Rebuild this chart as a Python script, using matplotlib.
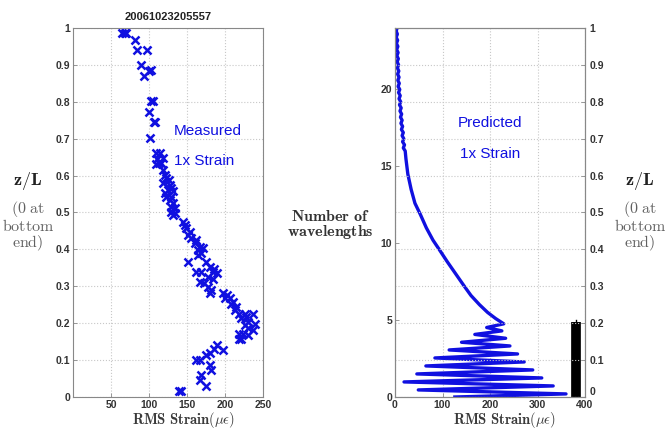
import matplotlib
matplotlib.use("Agg")
import matplotlib.pyplot as plt

plt.rcParams["mathtext.fontset"] = "cm"
plt.rcParams["font.family"] = ["Liberation Sans", "DejaVu Sans"]

BLUE = "#1010e0"
TICK_COLOR = "#333333"
GRID = dict(color="#c8c8c8", linestyle=":", linewidth=0.8)

# measured RMS strain (micro-strain) vs z/L
meas_strain = [64, 68, 70, 82, 84.6, 97.8, 89.9, 103, 100, 93.4, 103, 105.3, 100.4, 106.6,
               108.3, 100.9, 108.8, 114, 118.4, 110.5, 113, 109.6, 116, 118.4, 120.6, 122.8,
               126, 118.4, 127, 129, 125, 131.6, 120.6, 122.8, 129, 127, 131.6, 129, 133.8,
               129, 133.8, 131.6, 144.7, 147, 149, 153.5, 151, 155.7, 162, 160, 166.7, 164.5,
               171, 169, 164.5, 151, 175.4, 180, 186, 184, 162, 169, 190, 178, 184, 166.7,
               173, 178, 182, 180, 197, 202, 200, 206, 210.5, 208, 215, 213, 219, 226, 237,
               228, 221, 230, 239, 226, 230, 237, 219, 224, 230, 221, 219, 190, 186, 197,
               180, 175, 167, 162, 180, 182, 169, 167, 175, 139.5, 141.7]
meas_z = [0.986, 0.986, 0.986, 0.968, 0.941, 0.941, 0.899, 0.887, 0.883, 0.871, 0.801, 0.801,
          0.773, 0.745, 0.745, 0.703, 0.662, 0.661, 0.647, 0.644, 0.633, 0.631, 0.633, 0.615,
          0.602, 0.593, 0.588, 0.579, 0.575, 0.566, 0.561, 0.557, 0.552, 0.543, 0.543, 0.534,
          0.525, 0.516, 0.511, 0.502, 0.498, 0.493, 0.475, 0.466, 0.457, 0.448, 0.439, 0.430,
          0.425, 0.416, 0.407, 0.398, 0.403, 0.389, 0.385, 0.367, 0.367, 0.353, 0.348, 0.339,
          0.339, 0.339, 0.335, 0.326, 0.321, 0.312, 0.308, 0.299, 0.290, 0.282, 0.281, 0.276,
          0.267, 0.267, 0.258, 0.252, 0.244, 0.235, 0.226, 0.226, 0.226, 0.217, 0.213, 0.204,
          0.199, 0.195, 0.186, 0.181, 0.172, 0.172, 0.167, 0.158, 0.156, 0.140, 0.131, 0.127,
          0.118, 0.113, 0.100, 0.100, 0.086, 0.072, 0.059, 0.045, 0.029, 0.016, 0.016]

# predicted RMS strain vs number of wavelengths
pred_strain = [126, 360, 49, 333, 19, 309, 46, 290, 65, 272, 84, 258, 114, 242, 140, 233,
               168, 225, 193, 229, 212, 195, 178, 160, 146, 128, 110, 93, 80, 66, 53, 42,
               34, 27, 23,
               21.5, 17.5, 20.0, 16.0, 18.5, 15.0, 17.5, 13.5, 16.0, 12.5, 15.0, 11.5, 14.0,
               10.5, 13.0, 9.5, 12.0, 8.5, 11.0, 7.5, 10.0, 6.5, 9.0, 6.0, 8.5, 5.5, 8.0,
               5.0, 7.5, 4.5, 7.0, 4.0, 6.5, 3.5, 6.0, 3.0, 5.5, 2.5, 5.0, 2.5, 4.5]
pred_wl = [0.0, 0.2, 0.46, 0.72, 0.98, 1.24, 1.5, 1.76, 2.02, 2.28, 2.54, 2.8, 3.06, 3.32,
           3.56, 3.82, 4.07, 4.3, 4.52, 4.76, 5.1, 5.5, 6.0, 6.6, 7.2, 8.0, 8.8, 9.6, 10.2,
           11.0, 11.9, 12.6, 13.5, 14.5, 15.5,
           16.0, 16.2, 16.4, 16.6, 16.8, 17.0, 17.2, 17.4, 17.6, 17.8, 18.0, 18.2, 18.4,
           18.6, 18.8, 19.0, 19.2, 19.4, 19.6, 19.8, 20.0, 20.2, 20.4, 20.6, 20.8, 21.0,
           21.2, 21.4, 21.6, 21.8, 22.0, 22.2, 22.4, 22.6, 22.8, 23.0, 23.2, 23.4, 23.6,
           23.8, 24.0]

bar_x = 381
bar_top = 4.9

left_xticks = [50, 100, 150, 200, 250]
right_xticks = [0, 100, 200, 300, 400]
zl_ticks = [0, 0.1, 0.2, 0.3, 0.4, 0.5, 0.6, 0.7, 0.8, 0.9, 1]
zl_labels = ["0", "0.1", "0.2", "0.3", "0.4", "0.5", "0.6", "0.7", "0.8", "0.9", "1"]
wl_ticks = [0, 5, 10, 15, 20]


def style_axes(ax):
    for s in ax.spines.values():
        s.set_color("#888888")
        s.set_linewidth(0.8)
    ax.tick_params(direction="in", length=3, colors="#888888", labelcolor=TICK_COLOR,
                   labelsize=7.5, width=0.6, pad=2)
    for lbl in ax.get_xticklabels() + ax.get_yticklabels():
        lbl.set_fontweight("bold")


fig = plt.figure(figsize=(6.65, 4.3), dpi=100)

# ---- left: measured
ax1 = fig.add_axes([73 / 665, 33 / 430, 190 / 665, 369 / 430])
ax1.plot(meas_strain, meas_z, linestyle="none", marker="x", color=BLUE,
         markersize=5.5, markeredgewidth=1.8)
ax1.set_xlim(0, 250)
ax1.set_ylim(0, 1)
ax1.set_xticks(left_xticks)
ax1.set_yticks(zl_ticks)
ax1.set_yticklabels(zl_labels)
ax1.grid(True, **GRID)
ax1.set_axisbelow(True)
style_axes(ax1)
ax1.set_title("20061023205557", fontsize=8, fontweight="bold", color="#222222", pad=6)
ax1.text(0.53, 0.71, "Measured", transform=ax1.transAxes, color=BLUE, fontsize=11)
ax1.text(0.53, 0.629, "1x Strain", transform=ax1.transAxes, color=BLUE, fontsize=11)

# ---- right: predicted
ax2 = fig.add_axes([395 / 665, 33 / 430, 190 / 665, 369 / 430])
ax2.plot(pred_strain, pred_wl, color=BLUE, linewidth=2.4)
ax2.plot([bar_x, bar_x], [0, bar_top], color="black", linewidth=7, solid_capstyle="butt")
ax2.plot([bar_x, bar_x], [-0.05, bar_top + 0.08], color="black", linewidth=1)
ax2.set_xlim(0, 400)
ax2.set_ylim(0, 24)
ax2.set_xticks(right_xticks)
ax2.set_yticks(wl_ticks)
ax2.grid(True, axis="x", **GRID)
ax2.set_axisbelow(True)
style_axes(ax2)
ax2.text(0.5, 0.732, "Predicted", transform=ax2.transAxes, color=BLUE, fontsize=11,
         ha="center")
ax2.text(0.5, 0.648, "1x Strain", transform=ax2.transAxes, color=BLUE, fontsize=11,
         ha="center")

ax3 = ax2.twinx()
ax3.set_ylim(0, 1)
ax3.set_yticks(zl_ticks)
ax3.set_yticklabels(zl_labels)
ax3.grid(True, axis="y", **GRID)
style_axes(ax3)
ax3.tick_params(axis="y", pad=3)
ax3.get_yticklabels()[0].set_va("bottom")

# ---- labels in figure pixel coordinates
def ftext(x, y, s, **kw):
    fig.text(x / 665, 1 - y / 430, s, ha="center", va="center", **kw)

for cx in (184, 505):
    ftext(cx, 419.5, r"$\mathbf{RMS\ Strain}$" + r"$(\mu\epsilon)$", fontsize=10.5,
          color="#3a3a3a")

for cx in (28, 640):
    ftext(cx, 181, r"$\mathbf{z/L}$", fontsize=13, color="#222222")
    ftext(cx, 226, "$\\mathrm{(0\\ at}$\n$\\mathrm{bottom}$\n$\\mathrm{end)}$",
          fontsize=11.5, color="#606060", linespacing=0.95, multialignment="center")

ftext(330, 225, "$\\mathbf{Number\\ of}$\n$\\mathbf{wavelengths}$", fontsize=11.5,
      color="#333333", linespacing=0.9, multialignment="center")

fig.savefig("out.png", dpi=100)
